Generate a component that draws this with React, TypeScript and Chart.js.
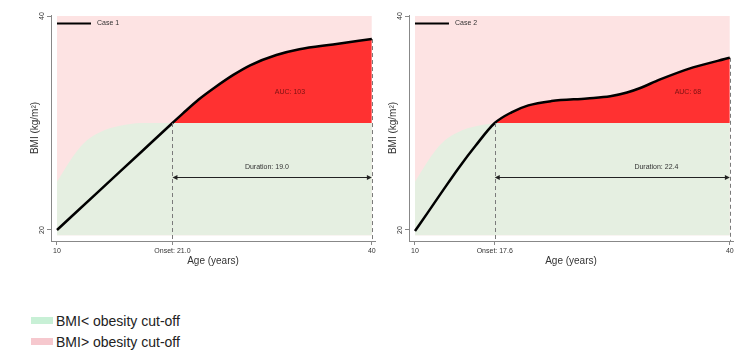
import React, { useEffect, useRef } from 'react';
import { Chart, registerables } from 'chart.js';

Chart.register(...registerables);

// ---------- data ----------
const cutoffAges = [10, 11, 12, 13, 14, 15, 16, 17, 18, 40];
const cutoffBmi = [24.5, 26.1, 27.5, 28.5, 29.1, 29.5, 29.75, 29.9, 30, 30];

const case1Ages = [10, 14, 18, 21, 22, 23.5, 25, 26.8, 28.4, 30.9, 33.1, 36.3, 40];
const case1Bmi = [20, 23.64, 27.27, 30, 30.9, 32.2, 33.3, 34.5, 35.4, 36.36, 36.9, 37.35, 37.85];

const case2Ages = [10, 11.2, 12.7, 14.2, 15.75, 17.6, 19.2, 20.8, 23.0, 26.4, 28.6, 30.2, 31.4, 33.3, 36.5, 40];
const case2Bmi = [19.9, 21.6, 23.75, 25.85, 27.85, 30, 31.0, 31.65, 32.05, 32.3, 32.5, 32.85, 33.25, 34.05, 35.2, 36.1];

const caseNames = ['Case 1', 'Case 2'];
const onsetAges = [21.0, 17.6];
const endAge = 40;
const durations = [19.0, 22.4];
const aucValues = [103, 68];
const obesityCutoff = 30;

const yTickValues = [20, 40];
const xTickLabels1 = ['10', 'Onset: 21.0', '40'];
const xTickLabels2 = ['10', 'Onset: 17.6', '40'];

const legendLabels = ['BMI< obesity cut-off', 'BMI> obesity cut-off'];

// annotation anchor positions (in data units)
const aucLabelPos = [{ x: 32.2, y: 32.9 }, { x: 36.0, y: 32.9 }];
const durationLabelX = [30.0, 33.0];
const durationArrowY = 25;
const bgFloor = 19.5;
const bgTop = 40;

// ---------- styles ----------
const FONT = "'Liberation Sans', Arial, Helvetica, sans-serif";
const PINK = '#fde3e3';
const GREEN = '#e5efe1';
const RED = '#ff3131';
const LEG_GREEN = '#c8f0d6';
const LEG_PINK = '#f6c8ce';

function makeConfig(idx: number) {
  const ages = idx === 0 ? case1Ages : case2Ages;
  const bmi = idx === 0 ? case1Bmi : case2Bmi;
  const onset = onsetAges[idx];
  const xTicks = [10, onset, endAge];
  const xLabels = idx === 0 ? xTickLabels1 : xTickLabels2;

  const annot = {
    id: 'annot' + idx,
    afterDatasetsDraw(chart: any) {
      const { ctx, chartArea, scales } = chart;
      const xs = scales.x;
      const ys = scales.y;
      ctx.save();
      // dashed verticals
      ctx.strokeStyle = '#7a7a7a';
      ctx.lineWidth = 1;
      ctx.setLineDash([4, 3]);
      const verts = [
        { x: onset, y: obesityCutoff },
        { x: endAge, y: bmi[bmi.length - 1] },
      ];
      verts.forEach((v) => {
        const px = Math.round(xs.getPixelForValue(v.x)) + 0.5;
        ctx.beginPath();
        ctx.moveTo(px, ys.getPixelForValue(v.y));
        ctx.lineTo(px, chartArea.bottom);
        ctx.stroke();
      });
      ctx.setLineDash([]);

      // duration arrow
      const ay = Math.round(ys.getPixelForValue(durationArrowY)) + 0.5;
      const x0 = xs.getPixelForValue(onset);
      const x1 = xs.getPixelForValue(endAge);
      ctx.strokeStyle = '#222';
      ctx.fillStyle = '#222';
      ctx.lineWidth = 1;
      ctx.beginPath();
      ctx.moveTo(x0 + 2, ay);
      ctx.lineTo(x1 - 2, ay);
      ctx.stroke();
      const head = (tip: number, dir: number) => {
        ctx.beginPath();
        ctx.moveTo(tip, ay);
        ctx.lineTo(tip + dir * 5, ay - 2.5);
        ctx.lineTo(tip + dir * 5, ay + 2.5);
        ctx.closePath();
        ctx.fill();
      };
      head(x0, 1);
      head(x1, -1);

      ctx.font = `7px ${FONT}`;
      ctx.textAlign = 'center';
      ctx.textBaseline = 'middle';
      ctx.fillStyle = '#333';
      ctx.fillText(
        'Duration: ' + durations[idx].toFixed(1),
        xs.getPixelForValue(durationLabelX[idx]),
        ay - 10
      );

      // AUC label
      ctx.fillStyle = '#7a1212';
      ctx.fillText(
        'AUC: ' + aucValues[idx],
        xs.getPixelForValue(aucLabelPos[idx].x),
        ys.getPixelForValue(aucLabelPos[idx].y)
      );

      // case legend
      const ly = chartArea.top + 8.5;
      const lx = xs.getPixelForValue(10);
      ctx.strokeStyle = '#000';
      ctx.lineWidth = 2;
      ctx.beginPath();
      ctx.moveTo(lx, ly);
      ctx.lineTo(lx + 34, ly);
      ctx.stroke();
      ctx.fillStyle = '#333';
      ctx.textAlign = 'left';
      ctx.fillText(caseNames[idx], lx + 40, ly);
      ctx.restore();
    },
  };

  return {
    type: 'line' as const,
    data: {
      datasets: [
        {
          label: caseNames[idx],
          data: ages.map((a, i) => ({ x: a, y: bmi[i] })),
          borderColor: '#000',
          borderWidth: 2.5,
          pointRadius: 0,
          cubicInterpolationMode: 'monotone',
          fill: { target: { value: obesityCutoff }, above: RED, below: 'rgba(0,0,0,0)' },
          order: 1,
        },
        {
          label: legendLabels[0],
          data: cutoffAges.map((a, i) => ({ x: a, y: cutoffBmi[i] })),
          borderColor: 'rgba(0,0,0,0)',
          borderWidth: 0,
          pointRadius: 0,
          cubicInterpolationMode: 'monotone',
          backgroundColor: GREEN,
          fill: { target: { value: bgFloor } },
          order: 2,
        },
        {
          label: legendLabels[1],
          data: [
            { x: 10, y: bgTop },
            { x: endAge, y: bgTop },
          ],
          borderColor: 'rgba(0,0,0,0)',
          borderWidth: 0,
          pointRadius: 0,
          backgroundColor: PINK,
          fill: { target: { value: bgFloor } },
          order: 3,
        },
      ],
    },
    options: {
      responsive: false,
      animation: false,
      devicePixelRatio: 1,
      layout: { padding: { top: 15, right: 5, left: 0, bottom: 0 } },
      plugins: { legend: { display: false }, tooltip: { enabled: false } },
      scales: {
        x: {
          type: 'linear',
          min: 9.43,
          max: 40.3,
          afterBuildTicks: (s: any) => {
            s.ticks = xTicks.map((v) => ({ value: v }));
          },
          afterFit: (s: any) => {
            s.height = 31;
          },
          ticks: {
            autoSkip: false,
            minRotation: 0,
            maxRotation: 0,
            padding: 2,
            color: '#333',
            font: { family: FONT, size: 7 },
            callback: (_v: any, i: number) => xLabels[i],
          },
          grid: { drawOnChartArea: false, drawTicks: true, tickLength: 4, color: '#888' },
          border: { display: true, color: '#888', width: 1 },
          title: {
            display: true,
            text: 'Age (years)',
            color: '#333',
            font: { family: FONT, size: 10 },
            padding: { top: 0, bottom: 5 },
          },
        },
        y: {
          type: 'linear',
          min: 18.97,
          max: 40.1,
          afterBuildTicks: (s: any) => {
            s.ticks = yTickValues.map((v) => ({ value: v }));
          },
          afterFit: (s: any) => {
            s.width = 51;
          },
          ticks: {
            minRotation: 90,
            maxRotation: 90,
            crossAlign: 'center',
            padding: 1.5,
            color: '#333',
            font: { family: FONT, size: 7 },
          },
          grid: { drawOnChartArea: false, drawTicks: true, tickLength: 4, color: '#888' },
          border: { display: true, color: '#888', width: 1 },
          title: {
            display: true,
            text: 'BMI (kg/m²)',
            color: '#333',
            font: { family: FONT, size: 10 },
            padding: { top: 29, bottom: 0 },
          },
        },
      },
    },
    plugins: [annot],
  };
}

function Panel({ idx, left }: { idx: number; left: number }) {
  const ref = useRef<HTMLCanvasElement | null>(null);
  useEffect(() => {
    if (!ref.current) return;
    const chart = new Chart(ref.current, makeConfig(idx) as any);
    return () => chart.destroy();
  }, [idx]);
  return (
    <canvas
      ref={ref}
      width={380}
      height={272}
      style={{ position: 'absolute', left, top: 0, width: 380, height: 272 }}
    />
  );
}

export default function App() {
  const legendColors = [LEG_GREEN, LEG_PINK];
  const legendTops = [312.7, 333.7];
  return (
    <div
      style={{
        position: 'fixed',
        left: 0,
        top: 0,
        width: 739,
        height: 351,
        background: '#fff',
        overflow: 'hidden',
      }}
    >
      <Panel idx={0} left={0} />
      <Panel idx={1} left={358} />
      {legendLabels.map((lab, i) => (
        <div
          key={lab}
          style={{
            position: 'absolute',
            left: 31,
            top: legendTops[i],
            height: 16,
            display: 'flex',
            alignItems: 'center',
            fontFamily: FONT,
            fontSize: 14,
            color: '#222',
            whiteSpace: 'nowrap',
          }}
        >
          <span style={{ display: 'inline-block', width: 22, height: 7, background: legendColors[i], marginRight: 3 }} />
          <span>{lab}</span>
        </div>
      ))}
    </div>
  );
}
